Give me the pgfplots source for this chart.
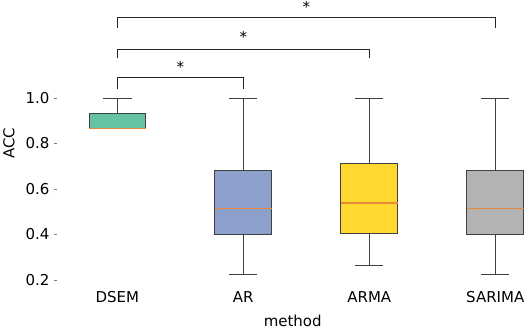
\documentclass[border=0pt]{standalone}
\usepackage{fontspec}
\setmainfont{DejaVu Sans}
\usepackage{pgfplots}
\pgfplotsset{compat=1.18}
\usepgfplotslibrary{statistics}

\definecolor{cDSEM}{HTML}{66C2A5}
\definecolor{cAR}{HTML}{8DA0CB}
\definecolor{cARMA}{HTML}{FFD92F}
\definecolor{cSARIMA}{HTML}{B3B3B3}
\definecolor{medc}{HTML}{E8893A}
\definecolor{edge}{HTML}{404040}

\begin{document}
\begin{tikzpicture}
\begin{axis}[
    scale only axis,
    width=471pt, height=287pt,
    xmin=-0.476, xmax=3.26,
    ymin=0.17, ymax=1.431,
    axis x line*=bottom, axis y line*=left,
    axis line style={draw=none},
    clip=false,
    xtick={0,1,2,3},
    xticklabels={DSEM,AR,ARMA,SARIMA},
    xtick style={draw=none},
    ytick={0.2,0.4,0.6,0.8,1.0},
    ytick style={gray, line width=0.8pt},
    tick align=outside,
    major tick length=3pt,
    yticklabel style={/pgf/number format/fixed, /pgf/number format/fixed zerofill, /pgf/number format/precision=1, xshift=-1.5pt},
    xticklabel style={yshift=2pt},
    /pgf/number format/assume math mode=true,
    tick label style={font=\fontsize{15}{18}\selectfont},
    label style={font=\fontsize{15}{18}\selectfont},
    xlabel={method},
    ylabel={ACC},
    ylabel shift=4pt,
    xlabel shift=6pt,
    boxplot/draw direction=y,
    boxplot/box extend=0.45,
    boxplot/whisker extend=0.225,
    boxplot/every median/.style={draw=medc, line width=1.2pt},
    boxplot/every whisker/.style={draw=edge, line width=0.9pt},
    boxplot/every box/.style={draw=edge, line width=1pt},
]

% DSEM
\addplot[fill=cDSEM, draw=edge,
    boxplot/draw/lower whisker/.code={},
    boxplot prepared={draw position=0,
        lower whisker=0.865, lower quartile=0.865, median=0.865,
        upper quartile=0.933, upper whisker=1.0}] coordinates {};
% AR
\addplot[fill=cAR, draw=edge,
    boxplot prepared={draw position=1,
        lower whisker=0.222, lower quartile=0.40, median=0.515,
        upper quartile=0.68, upper whisker=1.0}] coordinates {};
% ARMA
\addplot[fill=cARMA, draw=edge,
    boxplot prepared={draw position=2,
        lower whisker=0.263, lower quartile=0.405, median=0.538,
        upper quartile=0.711, upper whisker=1.0}] coordinates {};
% SARIMA
\addplot[fill=cSARIMA, draw=edge,
    boxplot prepared={draw position=3,
        lower whisker=0.222, lower quartile=0.40, median=0.515,
        upper quartile=0.68, upper whisker=1.0}] coordinates {};

% significance brackets
\draw[black!85, line width=1pt] (axis cs:0,1.04) -- (axis cs:0,1.088) -- (axis cs:1,1.088) -- (axis cs:1,1.04);
\draw[black!85, line width=1pt] (axis cs:0,1.176) -- (axis cs:0,1.215) -- (axis cs:2,1.215) -- (axis cs:2,1.176);
\draw[black!85, line width=1pt] (axis cs:0,1.308) -- (axis cs:0,1.352) -- (axis cs:3,1.352) -- (axis cs:3,1.308);
\node[font=\fontsize{15}{18}\selectfont, inner sep=0pt] at (axis cs:0.5,1.138) {*};
\node[font=\fontsize{15}{18}\selectfont, inner sep=0pt] at (axis cs:1.0,1.270) {*};
\node[font=\fontsize{15}{18}\selectfont, inner sep=0pt] at (axis cs:1.5,1.400) {*};
\end{axis}
\end{tikzpicture}
\end{document}
